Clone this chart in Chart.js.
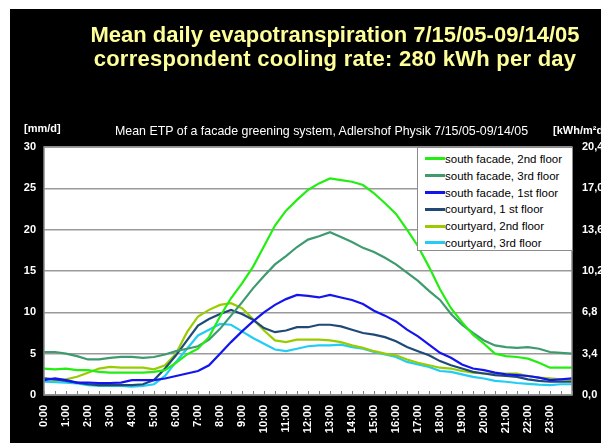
<!DOCTYPE html>
<html>
<head>
<meta charset="utf-8">
<script src="https://cdn.jsdelivr.net/npm/chart.js@4.4.1/dist/chart.umd.min.js"></script>
<style>
  html, body { margin: 0; padding: 0; background: #ffffff; }
  #wrap { position: relative; width: 601px; height: 443px; overflow: hidden; background: #ffffff; font-family: "Liberation Sans", Arial, sans-serif; }
  #black { position: absolute; left: 10px; top: 9px; width: 591px; height: 434px; background: #000000; }
  #cv { position: absolute; left: 0; top: 0; }
  .t { position: absolute; white-space: nowrap; }
  #title { left: 0; width: 670px; top: 23px; text-align: center; color: #ffff99; font-weight: bold; font-size: 22px; line-height: 24px; }
  #title .l2 { letter-spacing: 0.25px; }
  #sub { left: 115px; top: 124px; color: #ffffff; font-size: 12.4px; line-height: 14px; }
  #unitL { left: 24px; top: 121px; color: #ffffff; font-weight: bold; font-size: 11px; line-height: 14px; }
  #unitR { left: 553px; top: 123px; color: #ffffff; font-weight: bold; font-size: 11px; line-height: 14px; }
  #legend { position: absolute; left: 417px; top: 147px; width: 154px; height: 102px; background: #ffffff; border: 1px solid #8c8c8c; box-sizing: content-box; }
  .li { position: absolute; left: 7px; height: 16px; font-size: 11.5px; line-height: 16px; color: #000; white-space: nowrap; }
  .li span.sw { display: inline-block; width: 20px; height: 3px; vertical-align: middle; margin-right: 0px; position: relative; top: -1px; }
</style>
</head>
<body>
<div id="wrap">
  <div id="black"></div>
  <canvas id="cv" width="601" height="443"></canvas>
  <div class="t" id="title">Mean daily evapotranspiration 7/15/05-09/14/05<br><span class="l2">correspondent cooling rate: 280 kWh per day</span></div>
  <div class="t" id="unitL">[mm/d]</div>
  <div class="t" id="sub">Mean ETP of a facade greening system, Adlershof Physik 7/15/05-09/14/05</div>
  <div class="t" id="unitR">[kWh/m²d]</div>
  <div id="legend"></div>
</div>
<script>
// ---- data (hours of day, mm/d) ----
const hours = [0,0.5,1,1.5,2,2.5,3,3.5,4,4.5,5,5.5,6,6.5,7,7.5,8,8.5,9,9.5,10,10.5,11,11.5,12,12.5,13,13.5,14,14.5,15,15.5,16,16.5,17,17.5,18,18.5,19,19.5,20,20.5,21,21.5,22,22.5,23,23.5,24];
const hourLabels = ["0:00","1:00","2:00","3:00","4:00","5:00","6:00","7:00","8:00","9:00","10:00","11:00","12:00","13:00","14:00","15:00","16:00","17:00","18:00","19:00","20:00","21:00","22:00","23:00"];
const seriesNames = ["south facade, 2nd floor","south facade, 3rd floor","south facade, 1st floor","courtyard, 1 st floor","courtyard, 2nd floor","courtyard, 3rd floor"];
const seriesColors = ["#22ee11","#3f9a70","#1414ee","#1f4a78","#99cc00","#22ccf5"];
const southFacade2nd = [3.2,3.1,3.2,3.0,3.0,2.8,2.7,2.7,2.7,2.7,2.8,3.0,3.9,4.9,5.6,7.0,9.5,11.7,13.5,15.5,18.0,20.5,22.3,23.6,24.8,25.6,26.2,26.0,25.8,25.4,24.4,23.2,21.9,20.0,18.0,15.5,12.8,10.5,8.8,7.3,6.2,5.0,4.7,4.6,4.4,3.9,3.3,3.3,3.3];
const southFacade3rd = [5.2,5.2,5.0,4.7,4.3,4.3,4.5,4.6,4.6,4.5,4.6,4.9,5.3,5.6,5.9,6.7,8.0,9.6,11.2,12.9,14.4,15.8,16.8,17.9,18.8,19.2,19.7,19.1,18.5,17.8,17.3,16.6,15.8,14.8,13.8,12.6,11.5,9.8,8.5,7.5,6.6,6.0,5.8,5.7,5.8,5.6,5.2,5.1,5.0];
const southFacade1st = [1.8,2.0,1.8,1.5,1.5,1.45,1.45,1.5,1.8,1.8,1.8,2.0,2.3,2.6,2.9,3.6,5.0,6.4,7.7,8.9,10.0,10.9,11.6,12.1,12.0,11.8,12.1,11.8,11.5,11.0,10.2,9.6,8.9,7.9,7.1,6.1,5.1,4.5,3.7,3.2,3.0,2.7,2.5,2.4,2.3,2.1,1.8,1.9,2.0];
const courtyard1st = [2.0,1.9,1.7,1.5,1.3,1.2,1.2,1.2,1.2,1.3,1.8,3.2,4.8,6.6,8.4,9.2,9.8,10.3,9.8,9.1,8.1,7.6,7.8,8.2,8.2,8.5,8.5,8.3,7.9,7.5,7.3,7.0,6.5,5.8,5.3,4.8,4.1,3.6,3.2,2.8,2.6,2.4,2.3,2.2,1.9,1.7,1.6,1.6,1.6];
const courtyard2nd = [2.0,1.8,1.9,2.2,2.7,3.2,3.4,3.3,3.3,3.3,3.1,3.6,5.0,7.6,9.5,10.3,10.9,11.1,10.5,9.2,7.8,6.6,6.4,6.7,6.7,6.7,6.6,6.4,6.0,5.7,5.3,5.0,4.8,4.3,3.9,3.6,3.3,3.2,2.9,2.7,2.6,2.6,2.6,2.6,2.3,2.1,2.0,1.9,1.8];
const courtyard3rd = [1.6,1.55,1.5,1.4,1.2,1.1,1.1,1.1,1.0,1.1,1.3,2.3,4.0,5.6,7.2,7.9,8.6,8.5,7.7,6.9,6.2,5.5,5.3,5.6,5.9,6.0,6.0,6.1,5.8,5.6,5.2,4.9,4.6,4.0,3.7,3.4,2.9,2.8,2.5,2.2,2.0,1.7,1.6,1.45,1.35,1.25,1.2,1.3,1.3];
const yLeftTicks = [0,5,10,15,20,25,30];
const yRightTicks = ["0,0","3,4","6,8","10,2","13,6","17,0","20,4"];

const allSeries = [southFacade2nd, southFacade3rd, southFacade1st, courtyard1st, courtyard2nd, courtyard3rd];

// legend (HTML)
const lg = document.getElementById('legend');
seriesNames.forEach((n, i) => {
  const d = document.createElement('div');
  d.className = 'li';
  d.style.top = (3 + i * 16.8) + 'px';
  d.innerHTML = '<span class="sw" style="background:' + seriesColors[i] + '"></span>' + n;
  lg.appendChild(d);
});

const plotBg = {
  id: 'plotBg',
  beforeDraw(chart) {
    const a = chart.chartArea, c = chart.ctx;
    c.save();
    c.fillStyle = '#ffffff';
    c.fillRect(a.left, a.top, a.right - a.left, a.bottom - a.top);
    c.restore();
  },
  afterDraw(chart) {
    const a = chart.chartArea, c = chart.ctx, xs = chart.scales.x;
    c.save();
    c.strokeStyle = '#808080';
    c.lineWidth = 1;
    for (let i = 0; i < hours.length; i++) {
      const px = Math.round(xs.getPixelForValue(hours[i])) + 0.5;
      c.beginPath();
      c.moveTo(px, a.bottom);
      c.lineTo(px, a.bottom - 4);
      c.stroke();
    }
    c.strokeStyle = '#8c8c8c';
    c.lineWidth = 1.5;
    c.strokeRect(a.left, a.top, a.right - a.left, a.bottom - a.top);
    c.restore();
  }
};

new Chart(document.getElementById('cv'), {
  type: 'line',
  data: {
    datasets: allSeries.map((s, i) => ({
      label: seriesNames[i],
      data: hours.map((h, j) => ({ x: h, y: s[j] })),
      borderColor: seriesColors[i],
      backgroundColor: seriesColors[i],
      borderWidth: 2.2,
      pointRadius: 0,
      tension: 0,
      yAxisID: 'y'
    }))
  },
  options: {
    responsive: false,
    animation: false,
    devicePixelRatio: 1,
    layout: { padding: { left: 14, right: 0, top: 147, bottom: 0 } },
    plugins: { legend: { display: false }, tooltip: { enabled: false } },
    scales: {
      x: {
        type: 'linear', min: 0, max: 24,
        afterFit(s) { s.height = 48; },
        afterBuildTicks(s) { s.ticks = hourLabels.map((l, i) => ({ value: i })); },
        grid: { display: false, drawTicks: false },
        border: { display: false },
        ticks: {
          autoSkip: false, minRotation: 90, maxRotation: 90, padding: 10,
          color: '#ffffff', font: { family: 'Liberation Sans, Arial', size: 11, weight: 'bold' },
          callback: (v) => hourLabels[v] !== undefined ? hourLabels[v] : ''
        }
      },
      y: {
        position: 'left', min: 0, max: 30,
        afterFit(s) { s.width = 30; },
        afterBuildTicks(s) { s.ticks = yLeftTicks.map(v => ({ value: v })); },
        grid: { color: '#9a9a9a', lineWidth: 1.5, drawTicks: false },
        border: { display: false },
        ticks: { padding: 8, color: '#ffffff', font: { family: 'Liberation Sans, Arial', size: 11, weight: 'bold' } }
      },
      y2: {
        position: 'right', min: 0, max: 20.4,
        afterFit(s) { s.width = 29; },
        afterBuildTicks(s) { s.ticks = yRightTicks.map(t => ({ value: parseFloat(t.replace(',', '.')) })); },
        grid: { display: false, drawTicks: false },
        border: { display: false },
        ticks: {
          padding: 10, color: '#ffffff', font: { family: 'Liberation Sans, Arial', size: 11, weight: 'bold' },
          callback: (v) => { const i = yRightTicks.findIndex(t => Math.abs(parseFloat(t.replace(',', '.')) - v) < 1e-6); return i >= 0 ? yRightTicks[i] : ''; }
        }
      }
    }
  },
  plugins: [plotBg]
});
</script>
</body>
</html>
